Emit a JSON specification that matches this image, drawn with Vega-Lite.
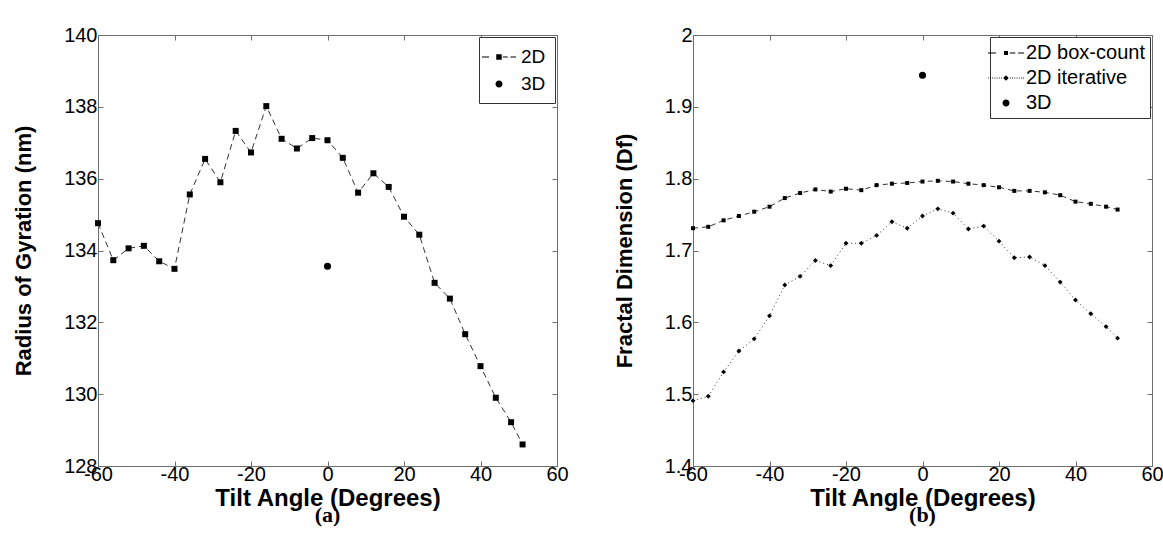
{
  "$schema": "https://vega.github.io/schema/vega-lite/v6.json",
  "background": "white",
  "padding": {"left": 12, "top": 24, "right": 0, "bottom": 0},
  "datasets": {
    "a": [
      {"series": "2D", "angle": -60, "value": 134.76},
      {"series": "2D", "angle": -56, "value": 133.73},
      {"series": "2D", "angle": -52, "value": 134.06},
      {"series": "2D", "angle": -48, "value": 134.13},
      {"series": "2D", "angle": -44, "value": 133.70},
      {"series": "2D", "angle": -40, "value": 133.49},
      {"series": "2D", "angle": -36, "value": 135.56},
      {"series": "2D", "angle": -32, "value": 136.55},
      {"series": "2D", "angle": -28, "value": 135.90},
      {"series": "2D", "angle": -24, "value": 137.33},
      {"series": "2D", "angle": -20, "value": 136.73},
      {"series": "2D", "angle": -16, "value": 138.02},
      {"series": "2D", "angle": -12, "value": 137.11},
      {"series": "2D", "angle": -8, "value": 136.84},
      {"series": "2D", "angle": -4, "value": 137.13},
      {"series": "2D", "angle": 0, "value": 137.07},
      {"series": "2D", "angle": 4, "value": 136.58},
      {"series": "2D", "angle": 8, "value": 135.61},
      {"series": "2D", "angle": 12, "value": 136.15},
      {"series": "2D", "angle": 16, "value": 135.77},
      {"series": "2D", "angle": 20, "value": 134.94},
      {"series": "2D", "angle": 24, "value": 134.44},
      {"series": "2D", "angle": 28, "value": 133.10},
      {"series": "2D", "angle": 32, "value": 132.66},
      {"series": "2D", "angle": 36, "value": 131.67},
      {"series": "2D", "angle": 40, "value": 130.78},
      {"series": "2D", "angle": 44, "value": 129.90},
      {"series": "2D", "angle": 48, "value": 129.22},
      {"series": "2D", "angle": 51, "value": 128.60},
      {"series": "3D", "angle": 0, "value": 133.56}
    ],
    "b": [
      {"series": "2D box-count", "angle": -60, "value": 1.731},
      {"series": "2D box-count", "angle": -56, "value": 1.733},
      {"series": "2D box-count", "angle": -52, "value": 1.742},
      {"series": "2D box-count", "angle": -48, "value": 1.748},
      {"series": "2D box-count", "angle": -44, "value": 1.754},
      {"series": "2D box-count", "angle": -40, "value": 1.761},
      {"series": "2D box-count", "angle": -36, "value": 1.773},
      {"series": "2D box-count", "angle": -32, "value": 1.780},
      {"series": "2D box-count", "angle": -28, "value": 1.785},
      {"series": "2D box-count", "angle": -24, "value": 1.782},
      {"series": "2D box-count", "angle": -20, "value": 1.786},
      {"series": "2D box-count", "angle": -16, "value": 1.784},
      {"series": "2D box-count", "angle": -12, "value": 1.791},
      {"series": "2D box-count", "angle": -8, "value": 1.793},
      {"series": "2D box-count", "angle": -4, "value": 1.794},
      {"series": "2D box-count", "angle": 0, "value": 1.796},
      {"series": "2D box-count", "angle": 4, "value": 1.797},
      {"series": "2D box-count", "angle": 8, "value": 1.796},
      {"series": "2D box-count", "angle": 12, "value": 1.793},
      {"series": "2D box-count", "angle": 16, "value": 1.791},
      {"series": "2D box-count", "angle": 20, "value": 1.788},
      {"series": "2D box-count", "angle": 24, "value": 1.783},
      {"series": "2D box-count", "angle": 28, "value": 1.783},
      {"series": "2D box-count", "angle": 32, "value": 1.781},
      {"series": "2D box-count", "angle": 36, "value": 1.777},
      {"series": "2D box-count", "angle": 40, "value": 1.768},
      {"series": "2D box-count", "angle": 44, "value": 1.765},
      {"series": "2D box-count", "angle": 48, "value": 1.761},
      {"series": "2D box-count", "angle": 51, "value": 1.757},
      {"series": "2D iterative", "angle": -60, "value": 1.491},
      {"series": "2D iterative", "angle": -56, "value": 1.497},
      {"series": "2D iterative", "angle": -52, "value": 1.531},
      {"series": "2D iterative", "angle": -48, "value": 1.560},
      {"series": "2D iterative", "angle": -44, "value": 1.577},
      {"series": "2D iterative", "angle": -40, "value": 1.609},
      {"series": "2D iterative", "angle": -36, "value": 1.652},
      {"series": "2D iterative", "angle": -32, "value": 1.664},
      {"series": "2D iterative", "angle": -28, "value": 1.686},
      {"series": "2D iterative", "angle": -24, "value": 1.679},
      {"series": "2D iterative", "angle": -20, "value": 1.710},
      {"series": "2D iterative", "angle": -16, "value": 1.710},
      {"series": "2D iterative", "angle": -12, "value": 1.721},
      {"series": "2D iterative", "angle": -8, "value": 1.740},
      {"series": "2D iterative", "angle": -4, "value": 1.731},
      {"series": "2D iterative", "angle": 0, "value": 1.748},
      {"series": "2D iterative", "angle": 4, "value": 1.758},
      {"series": "2D iterative", "angle": 8, "value": 1.752},
      {"series": "2D iterative", "angle": 12, "value": 1.730},
      {"series": "2D iterative", "angle": 16, "value": 1.734},
      {"series": "2D iterative", "angle": 20, "value": 1.713},
      {"series": "2D iterative", "angle": 24, "value": 1.690},
      {"series": "2D iterative", "angle": 28, "value": 1.691},
      {"series": "2D iterative", "angle": 32, "value": 1.679},
      {"series": "2D iterative", "angle": 36, "value": 1.656},
      {"series": "2D iterative", "angle": 40, "value": 1.631},
      {"series": "2D iterative", "angle": 44, "value": 1.612},
      {"series": "2D iterative", "angle": 48, "value": 1.594},
      {"series": "2D iterative", "angle": 51, "value": 1.578},
      {"series": "3D", "angle": 0, "value": 1.944}
    ]
  },
  "spacing": 43,
  "hconcat": [
    {
      "width": 459,
      "height": 431,
      "data": {"name": "a"},
      "title": {"text": "(a)", "orient": "bottom", "font": "Liberation Serif", "fontSize": 22, "fontWeight": "bold", "color": "black", "anchor": "middle", "frame": "group", "offset": -5},
      "resolve": {"axis": {"x": "independent", "y": "independent"}},
      "layer": [
        {
          "transform": [{"filter": "datum.series === '2D'"}],
          "mark": {"type": "line", "stroke": "#333333", "strokeWidth": 1, "strokeDash": [6, 4]},
          "encoding": {
            "x": {"field": "angle", "type": "quantitative", "scale": {"domain": [-60, 60], "nice": false, "zero": false}, "axis": {"values": [-60, -40, -20, 0, 20, 40, 60], "title": "Tilt Angle (Degrees)", "labelExpr": "toString(datum.value)", "labelPadding": 3, "titlePadding": 2, "titleFontSize": 24}},
            "y": {"field": "value", "type": "quantitative", "scale": {"domain": [128, 140], "nice": false, "zero": false}, "axis": {"values": [128, 130, 132, 134, 136, 138, 140], "title": "Radius of Gyration (nm)", "labelExpr": "toString(datum.value)"}}
          }
        },
        {
          "transform": [{"filter": "datum.series === '2D'"}],
          "mark": {"type": "point", "shape": "square", "filled": true, "color": "black", "size": 36, "opacity": 1},
          "encoding": {
            "x": {"field": "angle", "type": "quantitative", "axis": null},
            "y": {"field": "value", "type": "quantitative", "axis": null}
          }
        },
        {
          "transform": [{"filter": "datum.series === '3D'"}],
          "mark": {"type": "point", "shape": "circle", "filled": true, "color": "black", "size": 50, "opacity": 1},
          "encoding": {
            "x": {"field": "angle", "type": "quantitative", "axis": null},
            "y": {"field": "value", "type": "quantitative", "axis": null}
          }
        },
        {
          "mark": {"type": "point", "filled": true, "color": "black", "opacity": 0, "size": 484},
          "encoding": {
            "x": {"field": "angle", "type": "quantitative", "axis": {"orient": "top", "values": [-60, -40, -20, 0, 20, 40, 60], "labels": false, "title": null}},
            "y": {"field": "value", "type": "quantitative", "axis": {"orient": "right", "values": [128, 130, 132, 134, 136, 138, 140], "labels": false, "title": null}},
            "shape": {
              "field": "series", "type": "nominal",
              "scale": {"domain": ["2D", "3D"], "range": ["M-1.55,-0.05H-0.9V0.05H-1.55ZM0.35,-0.05H0.8V0.05H0.35ZM1.05,-0.05H1.55V0.05H1.05ZM-0.25,-0.25H0.25V0.25H-0.25Z", "M-0.32,0A0.32,0.32 0 1,0 0.32,0A0.32,0.32 0 1,0 -0.32,0Z"]},
              "legend": {"title": null, "orient": "top-right", "offset": 2, "symbolSize": 484, "labelOffset": 11, "rowPadding": 6, "padding": 9, "encode": {"symbols": {"opacity": {"value": 1}, "fillOpacity": {"value": 1}, "strokeOpacity": {"value": 0}}}}
            }
          }
        }
      ]
    },
    {
      "width": 459,
      "height": 431,
      "data": {"name": "b"},
      "title": {"text": "(b)", "orient": "bottom", "font": "Liberation Serif", "fontSize": 22, "fontWeight": "bold", "color": "black", "anchor": "middle", "frame": "group", "offset": -5},
      "resolve": {"axis": {"x": "independent", "y": "independent"}},
      "layer": [
        {
          "transform": [{"filter": "datum.series === '2D box-count'"}],
          "mark": {"type": "line", "stroke": "#333333", "strokeWidth": 1, "strokeDash": [5, 4]},
          "encoding": {
            "x": {"field": "angle", "type": "quantitative", "scale": {"domain": [-60, 60], "nice": false, "zero": false}, "axis": {"values": [-60, -40, -20, 0, 20, 40, 60], "title": "Tilt Angle (Degrees)", "labelExpr": "toString(datum.value)", "labelPadding": 3, "titlePadding": 2, "titleFontSize": 24}},
            "y": {"field": "value", "type": "quantitative", "scale": {"domain": [1.4, 2], "nice": false, "zero": false}, "axis": {"values": [1.4, 1.5, 1.6, 1.7, 1.8, 1.9, 2], "title": "Fractal Dimension (Df)", "labelExpr": "toString(datum.value)"}}
          }
        },
        {
          "transform": [{"filter": "datum.series === '2D iterative'"}],
          "mark": {"type": "line", "stroke": "#333333", "strokeWidth": 1, "strokeDash": [1, 3]},
          "encoding": {
            "x": {"field": "angle", "type": "quantitative", "axis": null},
            "y": {"field": "value", "type": "quantitative", "axis": null}
          }
        },
        {
          "transform": [{"filter": "datum.series === '2D box-count'"}],
          "mark": {"type": "point", "shape": "square", "filled": true, "color": "black", "size": 16, "opacity": 1},
          "encoding": {
            "x": {"field": "angle", "type": "quantitative", "axis": null},
            "y": {"field": "value", "type": "quantitative", "axis": null}
          }
        },
        {
          "transform": [{"filter": "datum.series === '2D iterative'"}],
          "mark": {"type": "point", "shape": "diamond", "filled": true, "color": "black", "size": 24, "opacity": 1},
          "encoding": {
            "x": {"field": "angle", "type": "quantitative", "axis": null},
            "y": {"field": "value", "type": "quantitative", "axis": null}
          }
        },
        {
          "transform": [{"filter": "datum.series === '3D'"}],
          "mark": {"type": "point", "shape": "circle", "filled": true, "color": "black", "size": 50, "opacity": 1},
          "encoding": {
            "x": {"field": "angle", "type": "quantitative", "axis": null},
            "y": {"field": "value", "type": "quantitative", "axis": null}
          }
        },
        {
          "mark": {"type": "point", "filled": true, "color": "black", "opacity": 0, "size": 484},
          "encoding": {
            "x": {"field": "angle", "type": "quantitative", "axis": {"orient": "top", "values": [-60, -40, -20, 0, 20, 40, 60], "labels": false, "title": null}},
            "y": {"field": "value", "type": "quantitative", "axis": {"orient": "right", "values": [1.4, 1.5, 1.6, 1.7, 1.8, 1.9, 2], "labels": false, "title": null}},
            "shape": {
              "field": "series", "type": "nominal",
              "scale": {"domain": ["2D box-count", "2D iterative", "3D"], "range": ["M-1.64,-0.05H-0.9V0.05H-1.64ZM0.35,-0.05H0.85V0.05H0.35ZM1.1,-0.05H1.64V0.05H1.1ZM-0.18,-0.18H0.18V0.18H-0.18Z", "M-1.64,-0.05H-1.56V0.05H-1.64ZM-1.44,-0.05H-1.36V0.05H-1.44ZM-1.24,-0.05H-1.16V0.05H-1.24ZM-1.04,-0.05H-0.96V0.05H-1.04ZM-0.84,-0.05H-0.76V0.05H-0.84ZM-0.64,-0.05H-0.56V0.05H-0.64ZM-0.44,-0.05H-0.36V0.05H-0.44ZM0.36,-0.05H0.44V0.05H0.36ZM0.56,-0.05H0.64V0.05H0.56ZM0.76,-0.05H0.84V0.05H0.76ZM0.96,-0.05H1.04V0.05H0.96ZM1.16,-0.05H1.24V0.05H1.16ZM1.36,-0.05H1.44V0.05H1.36ZM1.56,-0.05H1.64V0.05H1.56ZM0,-0.25L0.25,0L0,0.25L-0.25,0Z", "M-0.32,0A0.32,0.32 0 1,0 0.32,0A0.32,0.32 0 1,0 -0.32,0Z"]},
              "legend": {"title": null, "orient": "top-right", "offset": 2, "symbolSize": 484, "labelOffset": 9, "labelFontSize": 20, "rowPadding": 4, "padding": 5, "encode": {"symbols": {"opacity": {"value": 1}, "fillOpacity": {"value": 1}, "strokeOpacity": {"value": 0}}}}
            }
          }
        }
      ]
    }
  ],
  "resolve": {"scale": {"x": "independent", "y": "independent", "shape": "independent"}, "legend": {"shape": "independent"}},
  "config": {
    "font": "Liberation Sans",
    "view": {"stroke": "#6e6e6e", "strokeWidth": 1},
    "axis": {
      "grid": false,
      "domainColor": "#6e6e6e",
      "tickColor": "#6e6e6e",
      "tickSize": -5,
      "labelFont": "Liberation Sans",
      "labelFontSize": 20,
      "labelColor": "black",
      "labelFlush": false,
      "labelOverlap": false,
      "labelPadding": 6,
      "titleFont": "Liberation Sans",
      "titleFontSize": 22,
      "titleFontWeight": "bold",
      "titleColor": "black",
      "titlePadding": 28
    },
    "legend": {
      "labelFont": "Liberation Sans",
      "labelFontSize": 19,
      "labelColor": "black",
      "strokeColor": "#333333",
      "fillColor": "white",
      "symbolFillColor": "black",
      "symbolStrokeWidth": 0,
      "symbolOpacity": 1
    }
  }
}
